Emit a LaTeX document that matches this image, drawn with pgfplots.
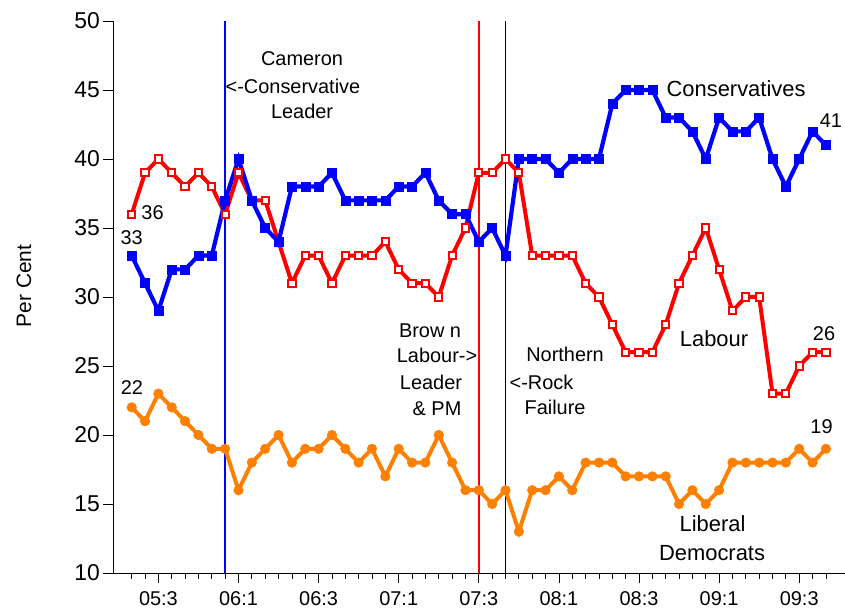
\documentclass[border=0pt]{standalone}
\usepackage{pgfplots}
\pgfplotsset{compat=1.18}
\usepackage{fontspec}
\setmainfont{Liberation Sans}
\definecolor{con}{RGB}{0,0,255}
\definecolor{lab}{RGB}{255,0,0}
\definecolor{ld}{RGB}{255,128,0}
\begin{document}
\begin{tikzpicture}
\begin{axis}[
  scale only axis, width=731.7bp, height=552bp,
  xmin=-1.378, xmax=53.43, ymin=10, ymax=50,
  axis lines*=left,
  axis line style={line width=1bp, black},
  ytick={10,15,...,50},
  xtick={2,8,...,50},
  xticklabels={05:3,06:1,06:3,07:1,07:3,08:1,08:3,09:1,09:3},
  minor xtick={0,1,...,52},
  tick align=outside,
  major tick length=10bp, minor tick length=5.5bp,
  tick style={black, line width=0.8bp},
  /pgf/number format/assume math mode=true,
  xticklabel style={font=\fontsize{20}{24}\selectfont, yshift=-5bp},
  yticklabel style={font=\fontsize{23}{27}\selectfont},
  ylabel={Per Cent},
  every axis y label/.style={at={(axis description cs:-0.122,0.52)}, rotate=90, anchor=center,
     font=\fontsize{21}{25}\selectfont},
  clip=false,
]
% event lines
\addplot[con, line width=1.5bp, forget plot] coordinates {(7,10) (7,50)};
\addplot[lab, line width=1.5bp, forget plot] coordinates {(26,10) (26,50)};
\addplot[black, line width=1.4bp, forget plot] coordinates {(28,10) (28,50)};
% Labour
\addplot[lab, line width=4bp, mark=square*, mark size=3.6bp,
  mark options={fill=white, draw=lab, line width=2bp}] coordinates {
(0,36)(1,39)(2,40)(3,39)(4,38)(5,39)(6,38)(7,36)(8,39)(9,37)(10,37)(11,34)(12,31)(13,33)(14,33)(15,31)(16,33)(17,33)(18,33)(19,34)(20,32)(21,31)(22,31)(23,30)(24,33)(25,35)(26,39)(27,39)(28,40)(29,39)(30,33)(31,33)(32,33)(33,33)(34,31)(35,30)(36,28)(37,26)(38,26)(39,26)(40,28)(41,31)(42,33)(43,35)(44,32)(45,29)(46,30)(47,30)(48,23)(49,23)(50,25)(51,26)(52,26)};
% Conservatives
\addplot[con, line width=4.2bp, mark=square*, mark size=4.5bp,
  mark options={fill=con, draw=con, line width=0.5bp}] coordinates {
(0,33)(1,31)(2,29)(3,32)(4,32)(5,33)(6,33)(7,37)(8,40)(9,37)(10,35)(11,34)(12,38)(13,38)(14,38)(15,39)(16,37)(17,37)(18,37)(19,37)(20,38)(21,38)(22,39)(23,37)(24,36)(25,36)(26,34)(27,35)(28,33)(29,40)(30,40)(31,40)(32,39)(33,40)(34,40)(35,40)(36,44)(37,45)(38,45)(39,45)(40,43)(41,43)(42,42)(43,40)(44,43)(45,42)(46,42)(47,43)(48,40)(49,38)(50,40)(51,42)(52,41)};
% Liberal Democrats
\addplot[ld, line width=4bp, mark=*, mark size=4.8bp,
  mark options={fill=ld, draw=ld, line width=0.5bp}] coordinates {
(0,22)(1,21)(2,23)(3,22)(4,21)(5,20)(6,19)(7,19)(8,16)(9,18)(10,19)(11,20)(12,18)(13,19)(14,19)(15,20)(16,19)(17,18)(18,19)(19,17)(20,19)(21,18)(22,18)(23,20)(24,18)(25,16)(26,16)(27,15)(28,16)(29,13)(30,16)(31,16)(32,17)(33,16)(34,18)(35,18)(36,18)(37,17)(38,17)(39,17)(40,17)(41,15)(42,16)(43,15)(44,16)(45,18)(46,18)(47,18)(48,18)(49,18)(50,19)(51,18)(52,19)};
% labels
\begin{scope}[every node/.style={anchor=base, inner sep=0pt, font=\fontsize{22}{26}\selectfont}]
\node at (axis cs:45.27,44.51) {Conservatives};
\node at (axis cs:43.62,26.40) {Labour};
\node at (axis cs:43.51,12.99) {Liberal};
\node at (axis cs:43.47,10.94) {Democrats};
\end{scope}
\begin{scope}[every node/.style={anchor=base, inner sep=0pt, font=\fontsize{20}{24}\selectfont}]
\node at (axis cs:52.38,42.25) {41};
\node at (axis cs:51.86,26.88) {26};
\node at (axis cs:51.67,20.14) {19};
\node at (axis cs:1.56,35.58) {36};
\node at (axis cs:0,33.77) {33};
\node at (axis cs:0.02,22.97) {22};
\node at (axis cs:12.76,46.81) {Cameron};
\node at (axis cs:12.08,44.78) {<-Conservative};
\node at (axis cs:12.76,42.90) {Leader};
\node at (axis cs:22.35,27.10) {Brow n};
\node at (axis cs:22.87,25.22) {Labour->};
\node at (axis cs:22.42,23.33) {Leader};
\node at (axis cs:22.87,21.38) {\& PM};
\node at (axis cs:32.46,25.29) {Northern};
\node at (axis cs:30.70,23.33) {<-Rock};
\node at (axis cs:31.71,21.45) {Failure};
\end{scope}
\end{axis}
\pgfresetboundingbox
\path[use as bounding box] (-113.3bp,-36bp) rectangle (731.7bp,573bp);
\end{tikzpicture}
\end{document}
